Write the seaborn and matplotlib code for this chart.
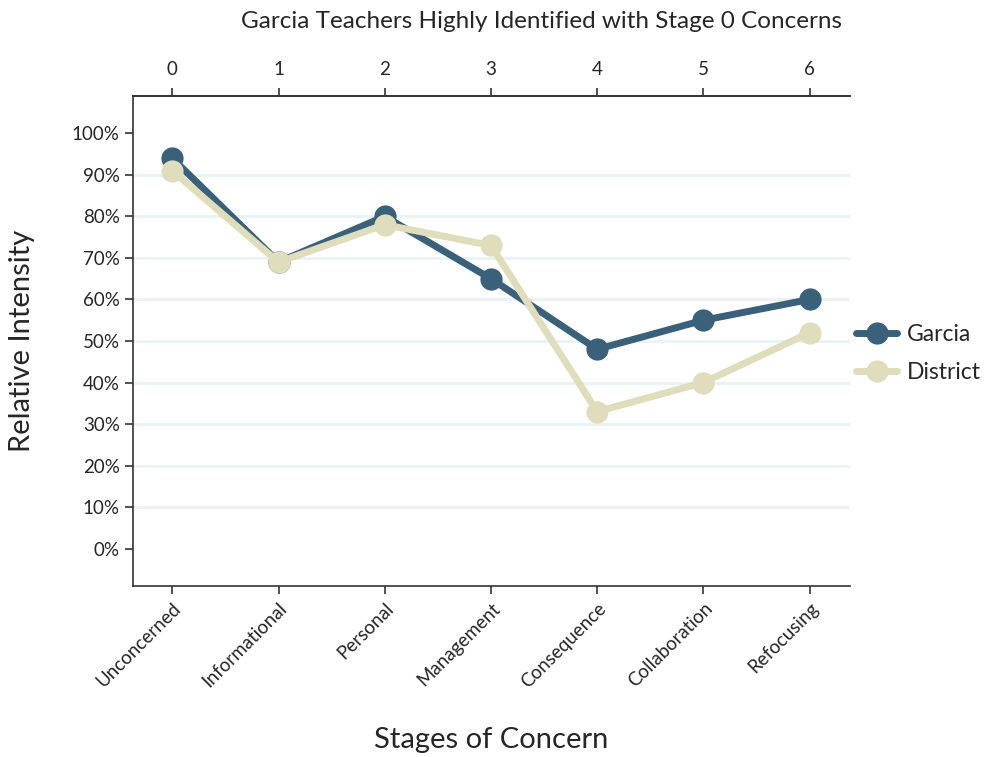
import matplotlib.pyplot as plt
import matplotlib.ticker as mticker
import seaborn as sns
import pandas as pd

# datos
etapas = ["Unconcerned", "Informational", "Personal", "Management",
          "Consequence", "Collaboration", "Refocusing"]
stage_num = [0, 1, 2, 3, 4, 5, 6]
garcia = [0.94, 0.69, 0.80, 0.65, 0.48, 0.55, 0.60]
district = [0.91, 0.69, 0.78, 0.73, 0.33, 0.40, 0.52]

df = pd.DataFrame({
    "stage": stage_num * 2,
    "value": garcia + district,
    "group": ["Garcia"] * 7 + ["District"] * 7,
})

sns.set_style("white")
plt.rcParams["font.family"] = ["Lato", "DejaVu Sans"]

fig = plt.figure(figsize=(9.88, 7.57), dpi=100)
ax = fig.add_axes([0.1346, 0.2259, 0.7257, 0.6473])

sns.lineplot(data=df, x="stage", y="value", hue="group",
             palette={"Garcia": "#3a6179", "District": "#e0ddbd"},
             marker="o", markersize=16, markeredgewidth=0, linewidth=5,
             ax=ax, zorder=3)

# rejilla
for v in [0.1, 0.2, 0.3, 0.4, 0.5, 0.6, 0.7, 0.8, 0.9]:
    ax.axhline(v, color="#eaf2f4", linewidth=2, zorder=1)

ax.set_xlim(-0.37, 6.38)
ax.set_ylim(-0.09, 1.09)
ax.set_yticks([0, 0.1, 0.2, 0.3, 0.4, 0.5, 0.6, 0.7, 0.8, 0.9, 1.0])
ax.yaxis.set_major_formatter(mticker.PercentFormatter(1.0, decimals=0))
ax.set_xticks(stage_num)
ax.set_xticklabels(etapas, rotation=45, ha="right", rotation_mode="anchor")

for s in ["left", "top", "bottom"]:
    ax.spines[s].set_color("#333333")
    ax.spines[s].set_linewidth(1.2)
ax.spines["right"].set_visible(False)
ax.tick_params(axis="both", length=6, width=1.2, color="#333333",
               labelsize=13.5, left=True, bottom=True)
ax.tick_params(axis="x", pad=4)

ax2 = ax.twiny()
ax2.set_xlim(ax.get_xlim())
ax2.set_xticks(stage_num)
ax2.set_xticklabels([str(s) for s in stage_num])
ax2.tick_params(axis="x", length=6, width=1.2, color="#333333",
                labelsize=13.5, pad=7)
for s in ["right", "left", "bottom"]:
    ax2.spines[s].set_visible(False)
ax2.spines["top"].set_color("#333333")
ax2.spines["top"].set_linewidth(1.2)

fig.text(0.5476, 0.971, "Garcia Teachers Highly Identified with Stage 0 Concerns",
         fontsize=17.5, ha="center", va="center")

ax.set_xlabel("")
ax.set_ylabel("")
fig.text(0.497, 1 - 740 / 757, "Stages of Concern", fontsize=21,
         ha="center", va="center")
fig.text(22 / 988, 1 - 341 / 757, "Relative Intensity", fontsize=21,
         rotation=90, ha="center", va="center")

sns.move_legend(ax, "center left", bbox_to_anchor=(856 / 988, 1 - 353.5 / 757),
                bbox_transform=fig.transFigure, title=None,
                frameon=False, fontsize=16.5, handlelength=1.8,
                handletextpad=0.4, labelspacing=0.78,
                borderpad=0, borderaxespad=0)

fig.savefig("out.png", dpi=100)
